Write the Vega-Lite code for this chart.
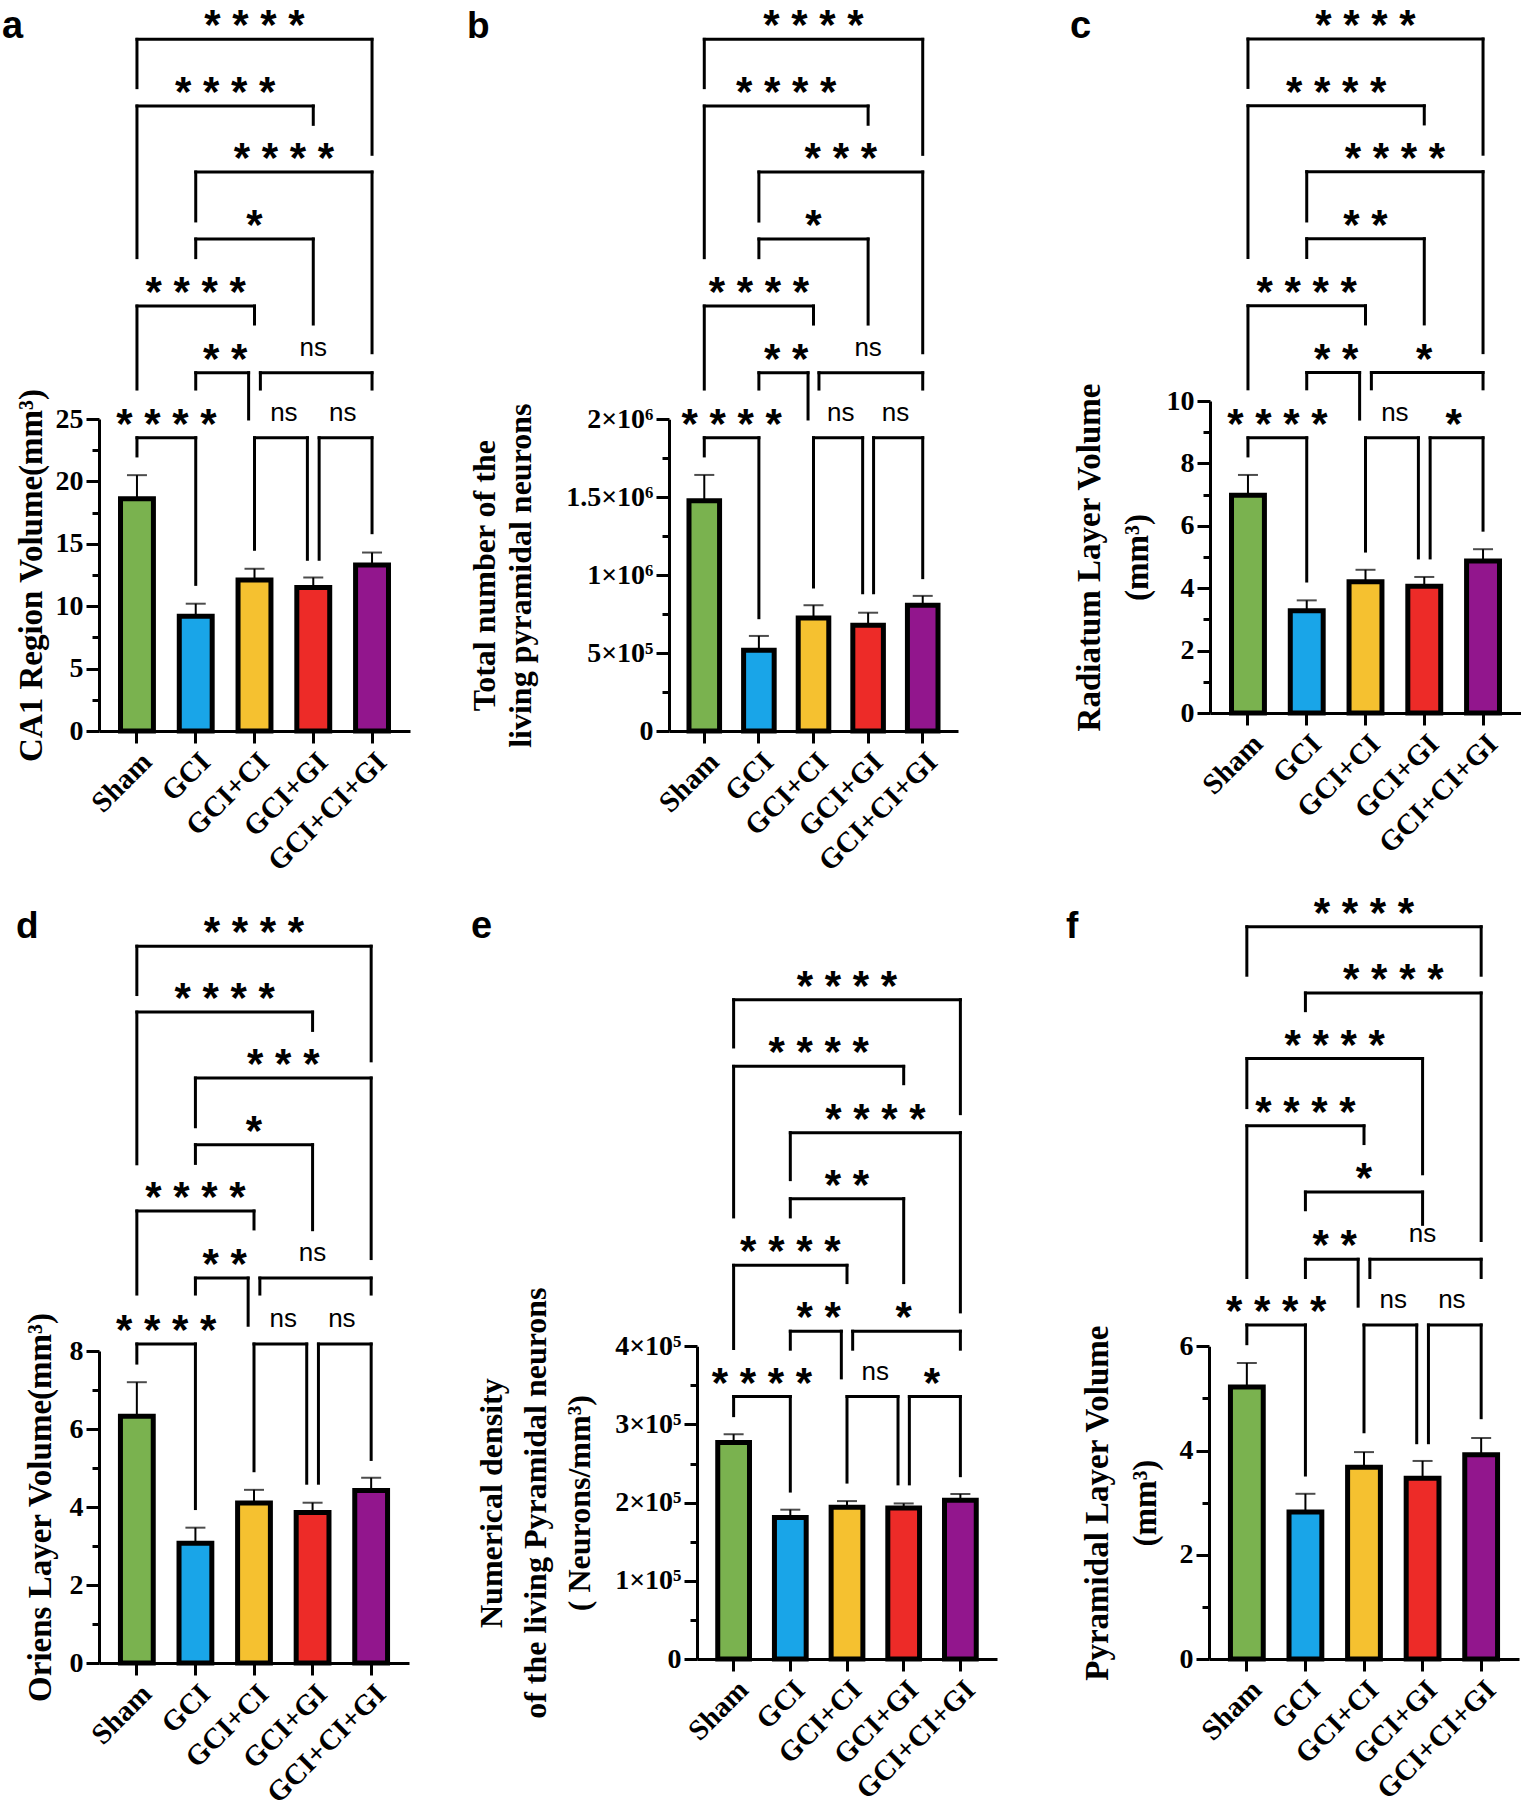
{
"$schema": "https://vega.github.io/schema/vega-lite/v6.json",
"background": "white",
"padding": {"left": 2, "top": 5, "right": 0, "bottom": 0},
"config": {
  "view": {"stroke": null},
  "axis": {"grid": false, "domainColor": "black", "domainWidth": 3, "tickColor": "black", "tickWidth": 3, "labelColor": "black", "titleColor": "black", "labelFont": "Liberation Serif", "labelFontWeight": "bold", "titleFont": "Liberation Serif", "titleFontWeight": "bold", "labelFontSize": 28, "titleFontSize": 33, "labelOverlap": false}
},
"datasets": {
  "bars": [
    {"panel":"a","group":"Sham","mean":18.6,"hi":20.5},{"panel":"a","group":"GCI","mean":9.2,"hi":10.2},{"panel":"a","group":"GCI+CI","mean":12.1,"hi":13.0},{"panel":"a","group":"GCI+GI","mean":11.5,"hi":12.3},{"panel":"a","group":"GCI+CI+GI","mean":13.3,"hi":14.3},
    {"panel":"b","group":"Sham","mean":1477000,"hi":1643000},{"panel":"b","group":"GCI","mean":518000,"hi":610000},{"panel":"b","group":"GCI+CI","mean":725000,"hi":807000},{"panel":"b","group":"GCI+GI","mean":678000,"hi":759000},{"panel":"b","group":"GCI+CI+GI","mean":807000,"hi":867000},
    {"panel":"c","group":"Sham","mean":6.98,"hi":7.63},{"panel":"c","group":"GCI","mean":3.28,"hi":3.61},{"panel":"c","group":"GCI+CI","mean":4.21,"hi":4.59},{"panel":"c","group":"GCI+GI","mean":4.06,"hi":4.36},{"panel":"c","group":"GCI+CI+GI","mean":4.87,"hi":5.25},
    {"panel":"d","group":"Sham","mean":6.33,"hi":7.2},{"panel":"d","group":"GCI","mean":3.07,"hi":3.47},{"panel":"d","group":"GCI+CI","mean":4.1,"hi":4.44},{"panel":"d","group":"GCI+GI","mean":3.86,"hi":4.11},{"panel":"d","group":"GCI+CI+GI","mean":4.42,"hi":4.75},
    {"panel":"e","group":"Sham","mean":277000,"hi":287500},{"panel":"e","group":"GCI","mean":181000,"hi":191000},{"panel":"e","group":"GCI+CI","mean":194000,"hi":202000},{"panel":"e","group":"GCI+GI","mean":193000,"hi":199000},{"panel":"e","group":"GCI+CI+GI","mean":203000,"hi":211000},
    {"panel":"f","group":"Sham","mean":5.22,"hi":5.68},{"panel":"f","group":"GCI","mean":2.82,"hi":3.17},{"panel":"f","group":"GCI+CI","mean":3.68,"hi":3.97},{"panel":"f","group":"GCI+GI","mean":3.47,"hi":3.8},{"panel":"f","group":"GCI+CI+GI","mean":3.92,"hi":4.24}
  ],
  "brk": [
    {"panel":"a","g1":0,"g2":4,"mid":2,"lvl":55.42,"leg1":51.55,"leg2":46.21,"label":"* * * *"},
    {"panel":"a","g1":0,"g2":3,"mid":1.5,"lvl":50.08,"leg1":37.93,"leg2":48.61,"label":"* * * *"},
    {"panel":"a","g1":1,"g2":4,"mid":2.5,"lvl":44.79,"leg1":40.87,"leg2":30.31,"label":"* * * *"},
    {"panel":"a","g1":1,"g2":3,"mid":2,"lvl":39.42,"leg1":37.93,"leg2":32.61,"label":"*"},
    {"panel":"a","g1":0,"g2":2,"mid":1,"lvl":34.05,"leg1":27.4,"leg2":32.61,"label":"* * * *"},
    {"panel":"a","g1":1,"g2":1.9,"mid":1.5,"lvl":28.71,"leg1":27.4,"leg2":25.0,"label":"* *"},
    {"panel":"a","g1":2.1,"g2":4,"mid":3,"lvl":28.71,"leg1":27.4,"leg2":27.4,"label":"ns"},
    {"panel":"a","g1":0,"g2":1,"mid":0.5,"lvl":23.5,"leg1":22.04,"leg2":11.75,"label":"* * * *"},
    {"panel":"a","g1":2,"g2":2.9,"mid":2.5,"lvl":23.5,"leg1":14.56,"leg2":13.76,"label":"ns"},
    {"panel":"a","g1":3.1,"g2":4,"mid":3.5,"lvl":23.5,"leg1":13.76,"leg2":15.89,"label":"ns"},

    {"panel":"b","g1":0,"g2":4,"mid":2,"lvl":4438000,"leg1":4128000,"leg2":3700000,"label":"* * * *"},
    {"panel":"b","g1":0,"g2":3,"mid":1.5,"lvl":4010000,"leg1":3037000,"leg2":3893000,"label":"* * * *"},
    {"panel":"b","g1":1,"g2":4,"mid":2.5,"lvl":3587000,"leg1":3272000,"leg2":2427000,"label":"* * *"},
    {"panel":"b","g1":1,"g2":3,"mid":2,"lvl":3157000,"leg1":3037000,"leg2":2611000,"label":"*"},
    {"panel":"b","g1":0,"g2":2,"mid":1,"lvl":2727000,"leg1":2194000,"leg2":2611000,"label":"* * * *"},
    {"panel":"b","g1":1,"g2":1.9,"mid":1.5,"lvl":2299000,"leg1":2194000,"leg2":2002000,"label":"* *"},
    {"panel":"b","g1":2.1,"g2":4,"mid":3,"lvl":2299000,"leg1":2194000,"leg2":2194000,"label":"ns"},
    {"panel":"b","g1":0,"g2":1,"mid":0.5,"lvl":1882000,"leg1":1765000,"leg2":727000,"label":"* * * *"},
    {"panel":"b","g1":2,"g2":2.9,"mid":2.5,"lvl":1882000,"leg1":924000,"leg2":887000,"label":"ns"},
    {"panel":"b","g1":3.1,"g2":4,"mid":3.5,"lvl":1882000,"leg1":887000,"leg2":984000,"label":"ns"},

    {"panel":"c","g1":0,"g2":4,"mid":2,"lvl":21.6,"leg1":20.05,"leg2":17.91,"label":"* * * *"},
    {"panel":"c","g1":0,"g2":3,"mid":1.5,"lvl":19.46,"leg1":14.6,"leg2":18.88,"label":"* * * *"},
    {"panel":"c","g1":1,"g2":4,"mid":2.5,"lvl":17.35,"leg1":15.77,"leg2":11.55,"label":"* * * *"},
    {"panel":"c","g1":1,"g2":3,"mid":2,"lvl":15.2,"leg1":14.6,"leg2":12.47,"label":"* *"},
    {"panel":"c","g1":0,"g2":2,"mid":1,"lvl":13.05,"leg1":10.39,"leg2":12.47,"label":"* * * *"},
    {"panel":"c","g1":1,"g2":1.9,"mid":1.5,"lvl":10.91,"leg1":10.39,"leg2":9.42,"label":"* *"},
    {"panel":"c","g1":2.1,"g2":4,"mid":3,"lvl":10.91,"leg1":10.39,"leg2":10.39,"label":"*"},
    {"panel":"c","g1":0,"g2":1,"mid":0.5,"lvl":8.82,"leg1":8.24,"leg2":4.23,"label":"* * * *"},
    {"panel":"c","g1":2,"g2":2.9,"mid":2.5,"lvl":8.82,"leg1":5.19,"leg2":4.97,"label":"ns"},
    {"panel":"c","g1":3.1,"g2":4,"mid":3.5,"lvl":8.82,"leg1":4.97,"leg2":5.86,"label":"*"},

    {"panel":"d","g1":0,"g2":4,"mid":2,"lvl":18.38,"leg1":17.14,"leg2":15.44,"label":"* * * *"},
    {"panel":"d","g1":0,"g2":3,"mid":1.5,"lvl":16.69,"leg1":12.8,"leg2":16.22,"label":"* * * *"},
    {"panel":"d","g1":1,"g2":4,"mid":2.5,"lvl":15.0,"leg1":13.75,"leg2":10.37,"label":"* * *"},
    {"panel":"d","g1":1,"g2":3,"mid":2,"lvl":13.29,"leg1":12.81,"leg2":11.11,"label":"*"},
    {"panel":"d","g1":0,"g2":2,"mid":1,"lvl":11.59,"leg1":9.46,"leg2":11.13,"label":"* * * *"},
    {"panel":"d","g1":1,"g2":1.9,"mid":1.5,"lvl":9.87,"leg1":9.46,"leg2":8.66,"label":"* *"},
    {"panel":"d","g1":2.1,"g2":4,"mid":3,"lvl":9.87,"leg1":9.46,"leg2":9.46,"label":"ns"},
    {"panel":"d","g1":0,"g2":1,"mid":0.5,"lvl":8.18,"leg1":7.69,"leg2":3.96,"label":"* * * *"},
    {"panel":"d","g1":2,"g2":2.9,"mid":2.5,"lvl":8.18,"leg1":4.93,"leg2":4.61,"label":"ns"},
    {"panel":"d","g1":3.1,"g2":4,"mid":3.5,"lvl":8.18,"leg1":4.61,"leg2":5.22,"label":"ns"},

    {"panel":"e","g1":0,"g2":4,"mid":2,"lvl":843400,"leg1":782900,"leg2":697600,"label":"* * * *"},
    {"panel":"e","g1":0,"g2":3,"mid":1.5,"lvl":758100,"leg1":565500,"leg2":735900,"label":"* * * *"},
    {"panel":"e","g1":1,"g2":4,"mid":2.5,"lvl":673300,"leg1":613200,"leg2":444000,"label":"* * * *"},
    {"panel":"e","g1":1,"g2":3,"mid":2,"lvl":588900,"leg1":565500,"leg2":481500,"label":"* *"},
    {"panel":"e","g1":0,"g2":2,"mid":1,"lvl":503600,"leg1":397200,"leg2":481500,"label":"* * * *"},
    {"panel":"e","g1":1,"g2":1.9,"mid":1.5,"lvl":419300,"leg1":396300,"leg2":359600,"label":"* *"},
    {"panel":"e","g1":2.1,"g2":4,"mid":3,"lvl":419300,"leg1":396300,"leg2":396300,"label":"*"},
    {"panel":"e","g1":0,"g2":1,"mid":0.5,"lvl":335700,"leg1":311300,"leg2":214800,"label":"* * * *"},
    {"panel":"e","g1":2,"g2":2.9,"mid":2.5,"lvl":335700,"leg1":226300,"leg2":224000,"label":"ns"},
    {"panel":"e","g1":3.1,"g2":4,"mid":3.5,"lvl":335700,"leg1":224000,"leg2":234500,"label":"*"},

    {"panel":"f","g1":0,"g2":4,"mid":2,"lvl":14.05,"leg1":13.12,"leg2":13.12,"label":"* * * *"},
    {"panel":"f","g1":1,"g2":4,"mid":2.5,"lvl":12.78,"leg1":12.44,"leg2":8.03,"label":"* * * *"},
    {"panel":"f","g1":0,"g2":3,"mid":1.5,"lvl":11.52,"leg1":10.58,"leg2":9.31,"label":"* * * *"},
    {"panel":"f","g1":0,"g2":2,"mid":1,"lvl":10.23,"leg1":7.32,"leg2":9.89,"label":"* * * *"},
    {"panel":"f","g1":1,"g2":3,"mid":2,"lvl":8.96,"leg1":8.62,"leg2":8.34,"label":"*"},
    {"panel":"f","g1":1,"g2":1.9,"mid":1.5,"lvl":7.67,"leg1":7.32,"leg2":6.77,"label":"* *"},
    {"panel":"f","g1":2.1,"g2":4,"mid":3,"lvl":7.67,"leg1":7.32,"leg2":7.32,"label":"ns"},
    {"panel":"f","g1":0,"g2":1,"mid":0.5,"lvl":6.41,"leg1":6.05,"leg2":3.53,"label":"* * * *"},
    {"panel":"f","g1":2,"g2":2.9,"mid":2.5,"lvl":6.41,"leg1":4.36,"leg2":4.15,"label":"ns"},
    {"panel":"f","g1":3.1,"g2":4,"mid":3.5,"lvl":6.41,"leg1":4.15,"leg2":4.63,"label":"ns"}
  ]
},
"columns": 1,
"align": "none",
"spacing": 6,
"concat": [
 {"spacing": 57, "hconcat": [
  {"width": 311, "height": 725,
   "title": {"text": "a", "orient": "none", "anchor": "start", "frame": "group", "baseline": "alphabetic", "offset": 0, "dy": 32, "dx": -97, "font": "Liberation Sans", "fontSize": 38, "fontWeight": "bold", "color": "black"},
   "resolve": {"scale": {"x": "independent"}},
   "layer": [
    {"data": {"name": "bars"}, "transform": [{"filter": "datum.panel === 'a'"}],
     "layer": [
      {"mark": {"type": "rule", "color": "black", "strokeWidth": 2},
       "encoding": {
        "x": {"field": "group", "type": "nominal", "sort": ["Sham","GCI","GCI+CI","GCI+GI","GCI+CI+GI"], "scale": {"type": "band", "paddingInner": 0.44, "paddingOuter": 0.366}, "axis": {"title": null, "labelAngle": -45, "labelFontSize": 29, "tickSize": 12, "labelPadding": 4}},
        "y": {"field": "mean", "type": "quantitative", "scale": {"domain": [0, 25], "range": [725, 413], "nice": false}, "axis": {"title": "CA1 Region Volume(mm³)", "titlePadding": 7, "values": [0,2.5,5,7.5,10,12.5,15,17.5,20,22.5,25], "labelExpr": "datum.value % 5 === 0 ? format(datum.value, 'd') : ''", "tickSize": {"condition": {"test": "datum.value % 5 !== 0", "value": 7}, "value": 13}, "labelPadding": 3}},
        "y2": {"field": "hi"}}},
      {"mark": {"type": "bar", "stroke": "black", "strokeWidth": 5, "width": {"band": 1}},
       "encoding": {
        "x": {"field": "group", "type": "nominal", "sort": ["Sham","GCI","GCI+CI","GCI+GI","GCI+CI+GI"]},
        "y": {"field": "mean", "type": "quantitative"},
        "fill": {"field": "group", "type": "nominal", "scale": {"domain": ["Sham","GCI","GCI+CI","GCI+GI","GCI+CI+GI"], "range": ["#7AB24F","#19A5E8","#F5C130","#ED2B28","#92168D"]}, "legend": null}}},
      {"mark": {"type": "tick", "color": "black", "thickness": 2, "size": 20},
       "encoding": {
        "x": {"field": "group", "type": "nominal", "sort": ["Sham","GCI","GCI+CI","GCI+GI","GCI+CI+GI"]},
        "y": {"field": "hi", "type": "quantitative"}}}
     ]},
    {"data": {"name": "brk"}, "transform": [{"filter": "datum.panel === 'a'"}],
     "layer": [
      {"mark": {"type": "rule", "color": "black", "strokeWidth": 3, "strokeCap": "square"},
       "encoding": {"x": {"field": "g1", "type": "quantitative", "scale": {"domain": [-0.646, 4.646], "nice": false, "zero": false}, "axis": null}, "x2": {"field": "g2"}, "y": {"field": "lvl", "type": "quantitative"}}},
      {"mark": {"type": "rule", "color": "black", "strokeWidth": 3, "strokeCap": "square"},
       "encoding": {"x": {"field": "g1", "type": "quantitative", "axis": null}, "y": {"field": "lvl", "type": "quantitative"}, "y2": {"field": "leg1"}}},
      {"mark": {"type": "rule", "color": "black", "strokeWidth": 3, "strokeCap": "square"},
       "encoding": {"x": {"field": "g2", "type": "quantitative", "axis": null}, "y": {"field": "lvl", "type": "quantitative"}, "y2": {"field": "leg2"}}},
      {"transform": [{"filter": "datum.label !== 'ns'"}],
       "mark": {"type": "text", "font": "Liberation Sans", "fontWeight": "bold", "fontSize": 42, "baseline": "alphabetic", "dy": 0, "color": "black"},
       "encoding": {"x": {"field": "mid", "type": "quantitative", "axis": null}, "y": {"field": "lvl", "type": "quantitative"}, "text": {"field": "label"}}},
      {"transform": [{"filter": "datum.label === 'ns'"}],
       "mark": {"type": "text", "font": "Liberation Sans", "fontSize": 26, "baseline": "alphabetic", "dy": -17, "color": "black"},
       "encoding": {"x": {"field": "mid", "type": "quantitative", "axis": null}, "y": {"field": "lvl", "type": "quantitative"}, "text": {"field": "label"}}}
     ]}
   ]},
  {"spacing": 112, "hconcat": [
   {"width": 289, "height": 725,
    "title": {"text": "b", "orient": "none", "anchor": "start", "frame": "group", "baseline": "alphabetic", "offset": 0, "dy": 32, "dx": -202, "font": "Liberation Sans", "fontSize": 37, "fontWeight": "bold", "color": "black"},
    "resolve": {"scale": {"x": "independent"}},
    "layer": [
     {"data": {"name": "bars"}, "transform": [{"filter": "datum.panel === 'b'"}],
      "layer": [
       {"mark": {"type": "rule", "color": "black", "strokeWidth": 2},
        "encoding": {
         "x": {"field": "group", "type": "nominal", "sort": ["Sham","GCI","GCI+CI","GCI+GI","GCI+CI+GI"], "scale": {"type": "band", "paddingInner": 0.44, "paddingOuter": 0.366}, "axis": {"title": null, "labelAngle": -45, "labelFontSize": 29, "tickSize": 12, "labelPadding": 4}},
         "y": {"field": "mean", "type": "quantitative", "scale": {"domain": [0, 2000000], "range": [725, 413.3], "nice": false}, "axis": {"title": ["Total number of the", "living pyramidal neurons"], "titleFontSize": 32, "titleLineHeight": 36, "titlePadding": 28, "values": [0,250000,500000,750000,1000000,1250000,1500000,1750000,2000000], "labelExpr": "datum.value === 0 ? '0' : datum.value === 500000 ? '5×10⁵' : datum.value === 1000000 ? '1×10⁶' : datum.value === 1500000 ? '1.5×10⁶' : datum.value === 2000000 ? '2×10⁶' : ''", "tickSize": {"condition": {"test": "datum.value % 500000 !== 0", "value": 7}, "value": 13}, "labelPadding": 3}},
         "y2": {"field": "hi"}}},
       {"mark": {"type": "bar", "stroke": "black", "strokeWidth": 5, "width": {"band": 1}},
        "encoding": {
         "x": {"field": "group", "type": "nominal", "sort": ["Sham","GCI","GCI+CI","GCI+GI","GCI+CI+GI"]},
         "y": {"field": "mean", "type": "quantitative"},
         "fill": {"field": "group", "type": "nominal", "scale": {"domain": ["Sham","GCI","GCI+CI","GCI+GI","GCI+CI+GI"], "range": ["#7AB24F","#19A5E8","#F5C130","#ED2B28","#92168D"]}, "legend": null}}},
       {"mark": {"type": "tick", "color": "black", "thickness": 2, "size": 20},
        "encoding": {
         "x": {"field": "group", "type": "nominal", "sort": ["Sham","GCI","GCI+CI","GCI+GI","GCI+CI+GI"]},
         "y": {"field": "hi", "type": "quantitative"}}}
      ]},
     {"data": {"name": "brk"}, "transform": [{"filter": "datum.panel === 'b'"}],
      "layer": [
       {"mark": {"type": "rule", "color": "black", "strokeWidth": 3, "strokeCap": "square"},
        "encoding": {"x": {"field": "g1", "type": "quantitative", "scale": {"domain": [-0.646, 4.646], "nice": false, "zero": false}, "axis": null}, "x2": {"field": "g2"}, "y": {"field": "lvl", "type": "quantitative"}}},
       {"mark": {"type": "rule", "color": "black", "strokeWidth": 3, "strokeCap": "square"},
        "encoding": {"x": {"field": "g1", "type": "quantitative", "axis": null}, "y": {"field": "lvl", "type": "quantitative"}, "y2": {"field": "leg1"}}},
       {"mark": {"type": "rule", "color": "black", "strokeWidth": 3, "strokeCap": "square"},
        "encoding": {"x": {"field": "g2", "type": "quantitative", "axis": null}, "y": {"field": "lvl", "type": "quantitative"}, "y2": {"field": "leg2"}}},
       {"transform": [{"filter": "datum.label !== 'ns'"}],
        "mark": {"type": "text", "font": "Liberation Sans", "fontWeight": "bold", "fontSize": 42, "baseline": "alphabetic", "dy": 0, "color": "black"},
        "encoding": {"x": {"field": "mid", "type": "quantitative", "axis": null}, "y": {"field": "lvl", "type": "quantitative"}, "text": {"field": "label"}}},
       {"transform": [{"filter": "datum.label === 'ns'"}],
        "mark": {"type": "text", "font": "Liberation Sans", "fontSize": 26, "baseline": "alphabetic", "dy": -17, "color": "black"},
        "encoding": {"x": {"field": "mid", "type": "quantitative", "axis": null}, "y": {"field": "lvl", "type": "quantitative"}, "text": {"field": "label"}}}
      ]}
    ]},
   {"width": 311, "height": 707,
    "title": {"text": "c", "orient": "none", "anchor": "start", "frame": "group", "baseline": "alphabetic", "offset": 0, "dy": 32, "dx": -140, "font": "Liberation Sans", "fontSize": 38, "fontWeight": "bold", "color": "black"},
    "resolve": {"scale": {"x": "independent"}},
    "layer": [
     {"data": {"name": "bars"}, "transform": [{"filter": "datum.panel === 'c'"}],
      "layer": [
       {"mark": {"type": "rule", "color": "black", "strokeWidth": 2},
        "encoding": {
         "x": {"field": "group", "type": "nominal", "sort": ["Sham","GCI","GCI+CI","GCI+GI","GCI+CI+GI"], "scale": {"type": "band", "paddingInner": 0.44, "paddingOuter": 0.366}, "axis": {"title": null, "labelAngle": -45, "labelFontSize": 29, "tickSize": 12, "labelPadding": 4}},
         "y": {"field": "mean", "type": "quantitative", "scale": {"domain": [0, 10], "range": [707, 395], "nice": false}, "axis": {"title": ["Radiatum Layer Volume", "(mm³)"], "titleLineHeight": 48, "titlePadding": 12, "values": [0,1,2,3,4,5,6,7,8,9,10], "labelExpr": "datum.value % 2 === 0 ? format(datum.value, 'd') : ''", "tickSize": {"condition": {"test": "datum.value % 2 !== 0", "value": 7}, "value": 13}, "labelPadding": 3}},
         "y2": {"field": "hi"}}},
       {"mark": {"type": "bar", "stroke": "black", "strokeWidth": 5, "width": {"band": 1}},
        "encoding": {
         "x": {"field": "group", "type": "nominal", "sort": ["Sham","GCI","GCI+CI","GCI+GI","GCI+CI+GI"]},
         "y": {"field": "mean", "type": "quantitative"},
         "fill": {"field": "group", "type": "nominal", "scale": {"domain": ["Sham","GCI","GCI+CI","GCI+GI","GCI+CI+GI"], "range": ["#7AB24F","#19A5E8","#F5C130","#ED2B28","#92168D"]}, "legend": null}}},
       {"mark": {"type": "tick", "color": "black", "thickness": 2, "size": 20},
        "encoding": {
         "x": {"field": "group", "type": "nominal", "sort": ["Sham","GCI","GCI+CI","GCI+GI","GCI+CI+GI"]},
         "y": {"field": "hi", "type": "quantitative"}}}
      ]},
     {"data": {"name": "brk"}, "transform": [{"filter": "datum.panel === 'c'"}],
      "layer": [
       {"mark": {"type": "rule", "color": "black", "strokeWidth": 3, "strokeCap": "square"},
        "encoding": {"x": {"field": "g1", "type": "quantitative", "scale": {"domain": [-0.646, 4.646], "nice": false, "zero": false}, "axis": null}, "x2": {"field": "g2"}, "y": {"field": "lvl", "type": "quantitative"}}},
       {"mark": {"type": "rule", "color": "black", "strokeWidth": 3, "strokeCap": "square"},
        "encoding": {"x": {"field": "g1", "type": "quantitative", "axis": null}, "y": {"field": "lvl", "type": "quantitative"}, "y2": {"field": "leg1"}}},
       {"mark": {"type": "rule", "color": "black", "strokeWidth": 3, "strokeCap": "square"},
        "encoding": {"x": {"field": "g2", "type": "quantitative", "axis": null}, "y": {"field": "lvl", "type": "quantitative"}, "y2": {"field": "leg2"}}},
       {"transform": [{"filter": "datum.label !== 'ns'"}],
        "mark": {"type": "text", "font": "Liberation Sans", "fontWeight": "bold", "fontSize": 42, "baseline": "alphabetic", "dy": 0, "color": "black"},
        "encoding": {"x": {"field": "mid", "type": "quantitative", "axis": null}, "y": {"field": "lvl", "type": "quantitative"}, "text": {"field": "label"}}},
       {"transform": [{"filter": "datum.label === 'ns'"}],
        "mark": {"type": "text", "font": "Liberation Sans", "fontSize": 26, "baseline": "alphabetic", "dy": -17, "color": "black"},
        "encoding": {"x": {"field": "mid", "type": "quantitative", "axis": null}, "y": {"field": "lvl", "type": "quantitative"}, "text": {"field": "label"}}}
      ]}
    ]}
  ]}
 ]},
 {"spacing": 62, "hconcat": [
  {"width": 310, "height": 780,
   "title": {"text": "d", "orient": "none", "anchor": "start", "frame": "group", "baseline": "alphabetic", "offset": 0, "dy": 55, "dx": -83, "font": "Liberation Sans", "fontSize": 37, "fontWeight": "bold", "color": "black"},
   "resolve": {"scale": {"x": "independent"}},
   "layer": [
    {"data": {"name": "bars"}, "transform": [{"filter": "datum.panel === 'd'"}],
     "layer": [
      {"mark": {"type": "rule", "color": "black", "strokeWidth": 2},
       "encoding": {
        "x": {"field": "group", "type": "nominal", "sort": ["Sham","GCI","GCI+CI","GCI+GI","GCI+CI+GI"], "scale": {"type": "band", "paddingInner": 0.44, "paddingOuter": 0.366}, "axis": {"title": null, "labelAngle": -45, "labelFontSize": 29, "tickSize": 12, "labelPadding": 4}},
        "y": {"field": "mean", "type": "quantitative", "scale": {"domain": [0, 8], "range": [780, 468], "nice": false}, "axis": {"title": "Oriens Layer Volume(mm³)", "titlePadding": 12, "values": [0,1,2,3,4,5,6,7,8], "labelExpr": "datum.value % 2 === 0 ? format(datum.value, 'd') : ''", "tickSize": {"condition": {"test": "datum.value % 2 !== 0", "value": 7}, "value": 13}, "labelPadding": 3}},
        "y2": {"field": "hi"}}},
      {"mark": {"type": "bar", "stroke": "black", "strokeWidth": 5, "width": {"band": 1}},
       "encoding": {
        "x": {"field": "group", "type": "nominal", "sort": ["Sham","GCI","GCI+CI","GCI+GI","GCI+CI+GI"]},
        "y": {"field": "mean", "type": "quantitative"},
        "fill": {"field": "group", "type": "nominal", "scale": {"domain": ["Sham","GCI","GCI+CI","GCI+GI","GCI+CI+GI"], "range": ["#7AB24F","#19A5E8","#F5C130","#ED2B28","#92168D"]}, "legend": null}}},
      {"mark": {"type": "tick", "color": "black", "thickness": 2, "size": 20},
       "encoding": {
        "x": {"field": "group", "type": "nominal", "sort": ["Sham","GCI","GCI+CI","GCI+GI","GCI+CI+GI"]},
        "y": {"field": "hi", "type": "quantitative"}}}
     ]},
    {"data": {"name": "brk"}, "transform": [{"filter": "datum.panel === 'd'"}],
     "layer": [
      {"mark": {"type": "rule", "color": "black", "strokeWidth": 3, "strokeCap": "square"},
       "encoding": {"x": {"field": "g1", "type": "quantitative", "scale": {"domain": [-0.646, 4.646], "nice": false, "zero": false}, "axis": null}, "x2": {"field": "g2"}, "y": {"field": "lvl", "type": "quantitative"}}},
      {"mark": {"type": "rule", "color": "black", "strokeWidth": 3, "strokeCap": "square"},
       "encoding": {"x": {"field": "g1", "type": "quantitative", "axis": null}, "y": {"field": "lvl", "type": "quantitative"}, "y2": {"field": "leg1"}}},
      {"mark": {"type": "rule", "color": "black", "strokeWidth": 3, "strokeCap": "square"},
       "encoding": {"x": {"field": "g2", "type": "quantitative", "axis": null}, "y": {"field": "lvl", "type": "quantitative"}, "y2": {"field": "leg2"}}},
      {"transform": [{"filter": "datum.label !== 'ns'"}],
       "mark": {"type": "text", "font": "Liberation Sans", "fontWeight": "bold", "fontSize": 42, "baseline": "alphabetic", "dy": 0, "color": "black"},
       "encoding": {"x": {"field": "mid", "type": "quantitative", "axis": null}, "y": {"field": "lvl", "type": "quantitative"}, "text": {"field": "label"}}},
      {"transform": [{"filter": "datum.label === 'ns'"}],
       "mark": {"type": "text", "font": "Liberation Sans", "fontSize": 26, "baseline": "alphabetic", "dy": -17, "color": "black"},
       "encoding": {"x": {"field": "mid", "type": "quantitative", "axis": null}, "y": {"field": "lvl", "type": "quantitative"}, "text": {"field": "label"}}}
     ]}
   ]},
  {"spacing": 69, "hconcat": [
   {"width": 300, "height": 776,
    "title": {"text": "e", "orient": "none", "anchor": "start", "frame": "group", "baseline": "alphabetic", "offset": 0, "dy": 55, "dx": -226, "font": "Liberation Sans", "fontSize": 38, "fontWeight": "bold", "color": "black"},
    "resolve": {"scale": {"x": "independent"}},
    "layer": [
     {"data": {"name": "bars"}, "transform": [{"filter": "datum.panel === 'e'"}],
      "layer": [
       {"mark": {"type": "rule", "color": "black", "strokeWidth": 2},
        "encoding": {
         "x": {"field": "group", "type": "nominal", "sort": ["Sham","GCI","GCI+CI","GCI+GI","GCI+CI+GI"], "scale": {"type": "band", "paddingInner": 0.44, "paddingOuter": 0.366}, "axis": {"title": null, "labelAngle": -45, "labelFontSize": 29, "tickSize": 12, "labelPadding": 4}},
         "y": {"field": "mean", "type": "quantitative", "scale": {"domain": [0, 400000], "range": [776, 463.3], "nice": false}, "axis": {"title": ["Numerical density", "of the living Pyramidal neurons", "( Neurons/mm³)"], "titleFontSize": 32, "titleLineHeight": 44, "titlePadding": 18, "values": [0,50000,100000,150000,200000,250000,300000,350000,400000], "labelExpr": "datum.value === 0 ? '0' : datum.value === 100000 ? '1×10⁵' : datum.value === 200000 ? '2×10⁵' : datum.value === 300000 ? '3×10⁵' : datum.value === 400000 ? '4×10⁵' : ''", "tickSize": {"condition": {"test": "datum.value % 100000 !== 0", "value": 7}, "value": 13}, "labelPadding": 3}},
         "y2": {"field": "hi"}}},
       {"mark": {"type": "bar", "stroke": "black", "strokeWidth": 5, "width": {"band": 1}},
        "encoding": {
         "x": {"field": "group", "type": "nominal", "sort": ["Sham","GCI","GCI+CI","GCI+GI","GCI+CI+GI"]},
         "y": {"field": "mean", "type": "quantitative"},
         "fill": {"field": "group", "type": "nominal", "scale": {"domain": ["Sham","GCI","GCI+CI","GCI+GI","GCI+CI+GI"], "range": ["#7AB24F","#19A5E8","#F5C130","#ED2B28","#92168D"]}, "legend": null}}},
       {"mark": {"type": "tick", "color": "black", "thickness": 2, "size": 20},
        "encoding": {
         "x": {"field": "group", "type": "nominal", "sort": ["Sham","GCI","GCI+CI","GCI+GI","GCI+CI+GI"]},
         "y": {"field": "hi", "type": "quantitative"}}}
      ]},
     {"data": {"name": "brk"}, "transform": [{"filter": "datum.panel === 'e'"}],
      "layer": [
       {"mark": {"type": "rule", "color": "black", "strokeWidth": 3, "strokeCap": "square"},
        "encoding": {"x": {"field": "g1", "type": "quantitative", "scale": {"domain": [-0.646, 4.646], "nice": false, "zero": false}, "axis": null}, "x2": {"field": "g2"}, "y": {"field": "lvl", "type": "quantitative"}}},
       {"mark": {"type": "rule", "color": "black", "strokeWidth": 3, "strokeCap": "square"},
        "encoding": {"x": {"field": "g1", "type": "quantitative", "axis": null}, "y": {"field": "lvl", "type": "quantitative"}, "y2": {"field": "leg1"}}},
       {"mark": {"type": "rule", "color": "black", "strokeWidth": 3, "strokeCap": "square"},
        "encoding": {"x": {"field": "g2", "type": "quantitative", "axis": null}, "y": {"field": "lvl", "type": "quantitative"}, "y2": {"field": "leg2"}}},
       {"transform": [{"filter": "datum.label !== 'ns'"}],
        "mark": {"type": "text", "font": "Liberation Sans", "fontWeight": "bold", "fontSize": 42, "baseline": "alphabetic", "dy": 0, "color": "black"},
        "encoding": {"x": {"field": "mid", "type": "quantitative", "axis": null}, "y": {"field": "lvl", "type": "quantitative"}, "text": {"field": "label"}}},
       {"transform": [{"filter": "datum.label === 'ns'"}],
        "mark": {"type": "text", "font": "Liberation Sans", "fontSize": 26, "baseline": "alphabetic", "dy": -17, "color": "black"},
        "encoding": {"x": {"field": "mid", "type": "quantitative", "axis": null}, "y": {"field": "lvl", "type": "quantitative"}, "text": {"field": "label"}}}
      ]}
    ]},
   {"width": 310, "height": 776,
    "title": {"text": "f", "orient": "none", "anchor": "start", "frame": "group", "baseline": "alphabetic", "offset": 0, "dy": 55, "dx": -143, "font": "Liberation Sans", "fontSize": 37, "fontWeight": "bold", "color": "black"},
    "resolve": {"scale": {"x": "independent"}},
    "layer": [
     {"data": {"name": "bars"}, "transform": [{"filter": "datum.panel === 'f'"}],
      "layer": [
       {"mark": {"type": "rule", "color": "black", "strokeWidth": 2},
        "encoding": {
         "x": {"field": "group", "type": "nominal", "sort": ["Sham","GCI","GCI+CI","GCI+GI","GCI+CI+GI"], "scale": {"type": "band", "paddingInner": 0.44, "paddingOuter": 0.366}, "axis": {"title": null, "labelAngle": -45, "labelFontSize": 29, "tickSize": 12, "labelPadding": 4}},
         "y": {"field": "mean", "type": "quantitative", "scale": {"domain": [0, 6], "range": [776, 463.3], "nice": false}, "axis": {"title": ["Pyramidal Layer Volume", "(mm³)"], "titleLineHeight": 48, "titlePadding": 17, "values": [0,1,2,3,4,5,6], "labelExpr": "datum.value % 2 === 0 ? format(datum.value, 'd') : ''", "tickSize": {"condition": {"test": "datum.value % 2 !== 0", "value": 7}, "value": 13}, "labelPadding": 3}},
         "y2": {"field": "hi"}}},
       {"mark": {"type": "bar", "stroke": "black", "strokeWidth": 5, "width": {"band": 1}},
        "encoding": {
         "x": {"field": "group", "type": "nominal", "sort": ["Sham","GCI","GCI+CI","GCI+GI","GCI+CI+GI"]},
         "y": {"field": "mean", "type": "quantitative"},
         "fill": {"field": "group", "type": "nominal", "scale": {"domain": ["Sham","GCI","GCI+CI","GCI+GI","GCI+CI+GI"], "range": ["#7AB24F","#19A5E8","#F5C130","#ED2B28","#92168D"]}, "legend": null}}},
       {"mark": {"type": "tick", "color": "black", "thickness": 2, "size": 20},
        "encoding": {
         "x": {"field": "group", "type": "nominal", "sort": ["Sham","GCI","GCI+CI","GCI+GI","GCI+CI+GI"]},
         "y": {"field": "hi", "type": "quantitative"}}}
      ]},
     {"data": {"name": "brk"}, "transform": [{"filter": "datum.panel === 'f'"}],
      "layer": [
       {"mark": {"type": "rule", "color": "black", "strokeWidth": 3, "strokeCap": "square"},
        "encoding": {"x": {"field": "g1", "type": "quantitative", "scale": {"domain": [-0.646, 4.646], "nice": false, "zero": false}, "axis": null}, "x2": {"field": "g2"}, "y": {"field": "lvl", "type": "quantitative"}}},
       {"mark": {"type": "rule", "color": "black", "strokeWidth": 3, "strokeCap": "square"},
        "encoding": {"x": {"field": "g1", "type": "quantitative", "axis": null}, "y": {"field": "lvl", "type": "quantitative"}, "y2": {"field": "leg1"}}},
       {"mark": {"type": "rule", "color": "black", "strokeWidth": 3, "strokeCap": "square"},
        "encoding": {"x": {"field": "g2", "type": "quantitative", "axis": null}, "y": {"field": "lvl", "type": "quantitative"}, "y2": {"field": "leg2"}}},
       {"transform": [{"filter": "datum.label !== 'ns'"}],
        "mark": {"type": "text", "font": "Liberation Sans", "fontWeight": "bold", "fontSize": 42, "baseline": "alphabetic", "dy": 0, "color": "black"},
        "encoding": {"x": {"field": "mid", "type": "quantitative", "axis": null}, "y": {"field": "lvl", "type": "quantitative"}, "text": {"field": "label"}}},
       {"transform": [{"filter": "datum.label === 'ns'"}],
        "mark": {"type": "text", "font": "Liberation Sans", "fontSize": 26, "baseline": "alphabetic", "dy": -17, "color": "black"},
        "encoding": {"x": {"field": "mid", "type": "quantitative", "axis": null}, "y": {"field": "lvl", "type": "quantitative"}, "text": {"field": "label"}}}
      ]}
    ]}
  ]}
 ]}
]
}
